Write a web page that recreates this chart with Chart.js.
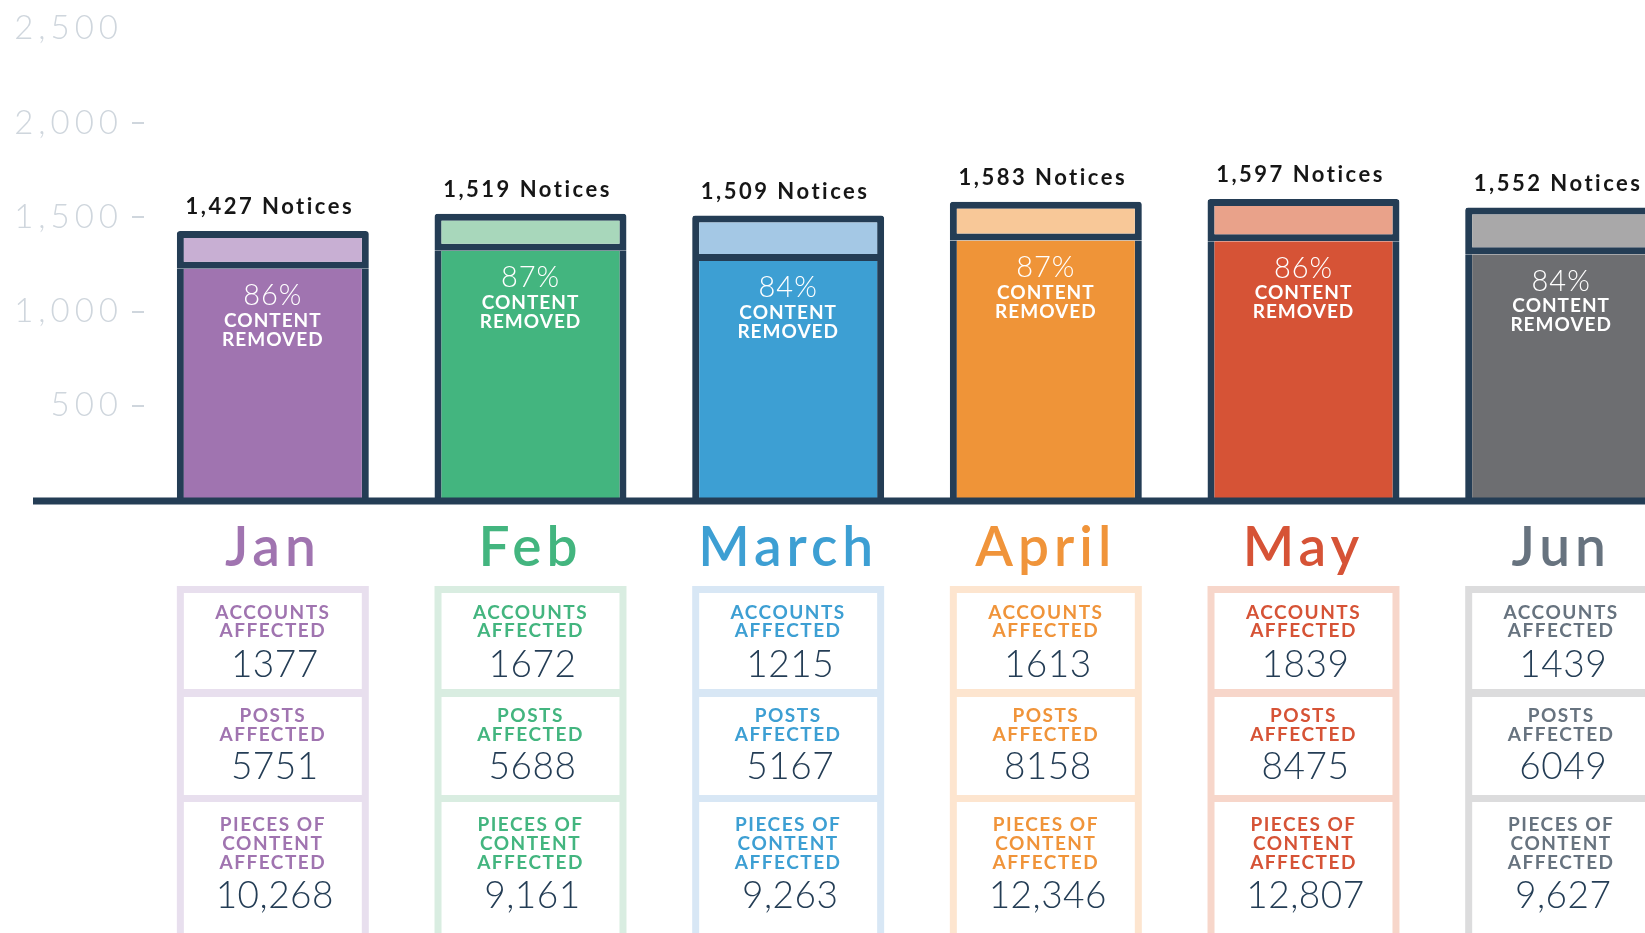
<!DOCTYPE html>
<html>
<head>
<meta charset="utf-8">
<title>Notices by month</title>
<script src="https://cdn.jsdelivr.net/npm/chart.js@4.4.1/dist/chart.umd.min.js"></script>
<style>
  html, body { margin: 0; padding: 0; background: #fff; overflow: hidden; }
  #wrap { width: 1690px; height: 933px; }
</style>
</head>
<body>
<div id="wrap"><canvas id="noticesChart" width="1690" height="933"></canvas></div>
<script>
const months = ['Jan', 'Feb', 'March', 'April', 'May', 'Jun'];
const notices = [1427, 1519, 1509, 1583, 1597, 1552];
const removedPct = [86, 87, 84, 87, 86, 84];
const removedNotices = [1227, 1322, 1268, 1377, 1373, 1304];
const keptNotices = [200, 197, 241, 206, 224, 248];
const accountsAffected = [1377, 1672, 1215, 1613, 1839, 1439];
const postsAffected = [5751, 5688, 5167, 8158, 8475, 6049];
const piecesAffected = [10268, 9161, 9263, 12346, 12807, 9627];

// colours
const navy = '#243d55';
const removedColors = ['#a074b0', '#43b57f', '#3d9fd3', '#ef9438', '#d65336', '#6d6e71'];
const keptColors = ['#c8afd3', '#a8d7bb', '#a4c8e5', '#f8c898', '#e9a28a', '#a9a8a9'];
const monthColors = ['#a074b0', '#43b57f', '#3d9fd3', '#f0943a', '#d65336', '#67737f'];
const boxColors = ['#e8dfee', '#d9ede1', '#d8e7f5', '#fde5cf', '#f7d6ca', '#dcdcdd'];
const tickGray = '#cfd6dd';

const fmt = n => n.toLocaleString('en-US');

const annotate = {
  id: 'annotate',
  beforeDraw(chart) {
    chart.ctx.letterSpacing = '5px';
  },
  afterDatasetsDraw(chart) {
    const ctx = chart.ctx;
    const removedBars = chart.getDatasetMeta(0).data;
    const keptBars = chart.getDatasetMeta(1).data;
    const base = chart.scales.y.getPixelForValue(0);

    ctx.save();
    // baseline
    ctx.strokeStyle = navy;
    ctx.lineWidth = 7;
    ctx.beginPath();
    ctx.moveTo(33, base + 1);
    ctx.lineTo(chart.width, base + 1);
    ctx.stroke();

    ctx.textAlign = 'center';
    ctx.textBaseline = 'middle';
    keptBars.forEach((bar, i) => {
      ctx.letterSpacing = '2.5px';
      ctx.fillStyle = '#161616';
      ctx.font = 'bold 22px Lato';
      ctx.fillText(fmt(notices[i]) + ' Notices', bar.x - 3, bar.y - 24);

      const top = removedBars[i].y;
      ctx.letterSpacing = '1px';
      ctx.fillStyle = '#ffffff';
      ctx.font = '300 29px Lato';
      ctx.fillText(removedPct[i] + '%', bar.x, top + 27);
      ctx.font = 'bold 19px Lato';
      ctx.fillText('CONTENT', bar.x, top + 52);
      ctx.fillText('REMOVED', bar.x, top + 71);
    });
    ctx.restore();
  },
  afterDraw(chart) {
    const ctx = chart.ctx;
    const bars = chart.getDatasetMeta(1).data;
    const base = chart.scales.y.getPixelForValue(0);
    const cells = [
      { top: 93, bottom: 189, label: ['ACCOUNTS', 'AFFECTED'], labelY: [113, 131], valueY: 165, values: accountsAffected, plain: true },
      { top: 197, bottom: 295, label: ['POSTS', 'AFFECTED'], labelY: [216, 235], valueY: 267, values: postsAffected, plain: true },
      { top: 302, bottom: 460, label: ['PIECES OF', 'CONTENT', 'AFFECTED'], labelY: [325, 344, 363], valueY: 396, values: piecesAffected, plain: false }
    ];

    ctx.save();
    ctx.textAlign = 'center';
    ctx.textBaseline = 'middle';
    bars.forEach((bar, i) => {
      const left = bar.x - bar.width / 2;
      ctx.fillStyle = boxColors[i];
      ctx.fillRect(left, base + 86, bar.width, 400);
      cells.forEach(c => {
        ctx.fillStyle = '#ffffff';
        ctx.fillRect(left + 7, base + c.top, bar.width - 14, c.bottom - c.top);
        ctx.fillStyle = monthColors[i];
        ctx.font = 'bold 19px Lato';
        ctx.letterSpacing = '1.5px';
        c.label.forEach((t, k) => ctx.fillText(t, bar.x, base + c.labelY[k]));
        ctx.fillStyle = navy;
        ctx.font = '300 37px Lato';
        ctx.letterSpacing = '0.5px';
        const v = c.values[i];
        ctx.fillText(c.plain ? String(v) : fmt(v), bar.x + 2, base + c.valueY);
      });
    });
    ctx.restore();
  }
};

new Chart(document.getElementById('noticesChart'), {
  type: 'bar',
  data: {
    labels: months,
    datasets: [
      {
        label: 'Content removed',
        data: removedNotices,
        backgroundColor: removedColors,
        borderColor: navy,
        borderWidth: { left: 7, right: 7, top: 0, bottom: 0 },
        borderSkipped: false
      },
      {
        label: 'Not removed',
        data: keptNotices,
        backgroundColor: keptColors,
        borderColor: navy,
        borderWidth: 7,
        borderSkipped: false,
        borderRadius: { topLeft: 3, topRight: 3, bottomLeft: 0, bottomRight: 0 }
      }
    ]
  },
  options: {
    responsive: false,
    devicePixelRatio: 1,
    animation: false,
    layout: { padding: { top: 23, right: 0, bottom: 0, left: 0 } },
    datasets: { bar: { categoryPercentage: 1, barPercentage: 0.745 } },
    plugins: { legend: { display: false }, tooltip: { enabled: false } },
    scales: {
      x: {
        stacked: true,
        grid: { display: false, drawTicks: false },
        border: { display: false },
        ticks: {
          autoSkip: false,
          maxRotation: 0,
          padding: 21,
          color: ctx => monthColors[ctx.index],
          font: { family: 'Lato', size: 55, weight: 600, lineHeight: 1 }
        },
        afterFit: s => { s.height = 433; }
      },
      y: {
        stacked: true,
        min: 0,
        max: 2500,
        border: { display: false },
        grid: {
          drawOnChartArea: false,
          tickLength: 12,
          lineWidth: 2,
          tickColor: ctx => (ctx.tick && (ctx.tick.value === 0 || ctx.tick.value === 2500)) ? 'rgba(0,0,0,0)' : tickGray
        },
        ticks: {
          stepSize: 500,
          padding: 9,
          color: tickGray,
          font: { family: 'Lato', size: 33, weight: 300 },
          callback: v => v === 0 ? '' : fmt(v)
        },
        afterFit: s => { s.width = 144; }
      }
    }
  },
  plugins: [annotate]
});
</script>
</body>
</html>
